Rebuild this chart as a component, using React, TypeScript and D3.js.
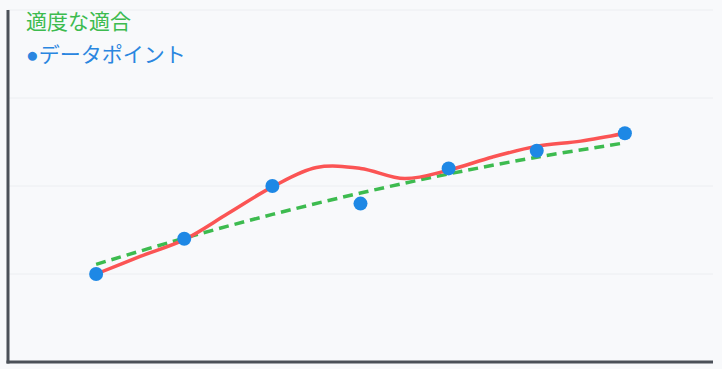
import React from "react";
import * as d3 from "d3";

const xs = [1, 2, 3, 4, 5, 6, 7];
const pointValues = [1.0, 1.4, 2.0, 1.8, 2.2, 2.4, 2.6];
const fitX = [1, 2, 3, 4, 5, 6, 7];
const fitValues = [1.11, 1.407, 1.677, 1.92, 2.137, 2.327, 2.49];
const curveX = [1, 1.5, 2, 2.5, 3, 3.5, 4, 4.5, 5, 5.5, 6, 6.5, 7];
const curveValues = [1.0, 1.2, 1.39, 1.69, 1.99, 2.21, 2.2, 2.085, 2.18, 2.33, 2.45, 2.51, 2.6];
const yTicks = [1, 2, 3, 4];
const legendLabels = ["適度な適合", "●データポイント"];

export default function App() {
  const W = 722;
  const H = 369;
  const x = d3.scaleLinear().domain([0, 8]).range([8, 713]);
  const y = d3.scaleLinear().domain([0, 4]).range([362, 10]);

  const red = d3
    .line<number>()
    .x((_, i) => x(curveX[i]))
    .y((d) => y(d))
    .curve(d3.curveCatmullRom.alpha(0.5))(curveValues) || "";
  const green = d3
    .line<number>()
    .x((_, i) => x(fitX[i]))
    .y((d) => y(d))
    .curve(d3.curveCatmullRom.alpha(0.5))(fitValues) || "";

  return (
    <svg
      width={W}
      height={H}
      style={{ position: "fixed", left: 0, top: 0, display: "block" }}
    >
      <rect x={0} y={0} width={W} height={H} fill="#f8f9fb" />
      {yTicks.map((t) => (
        <line key={t} x1={x(0)} x2={713} y1={y(t)} y2={y(t)} stroke="#eceef1" strokeWidth={1} />
      ))}
      <path d={green} fill="none" stroke="#3dbb4f" strokeWidth={3.5} strokeDasharray="10,6" />
      <path d={red} fill="none" stroke="#fb5454" strokeWidth={3.5} />
      {pointValues.map((v, i) => (
        <circle key={i} cx={x(xs[i])} cy={y(v)} r={7} fill="#1e88e5" />
      ))}
      <line x1={x(0)} x2={x(0)} y1={y(4)} y2={y(0) + 1.5} stroke="#4b5058" strokeWidth={3} />
      <line x1={x(0) - 1.5} x2={713} y1={y(0)} y2={y(0)} stroke="#4b5058" strokeWidth={3} />
      <text x={26} y={29} fill="#3dbb4f" fontSize={21} fontFamily="'Noto Sans CJK JP', sans-serif">
        {legendLabels[0]}
      </text>
      <text x={26} y={62} fill="#2a86e0" fontSize={21} fontFamily="'Liberation Sans', 'Noto Sans CJK JP', sans-serif">
        {legendLabels[1]}
      </text>
    </svg>
  );
}
